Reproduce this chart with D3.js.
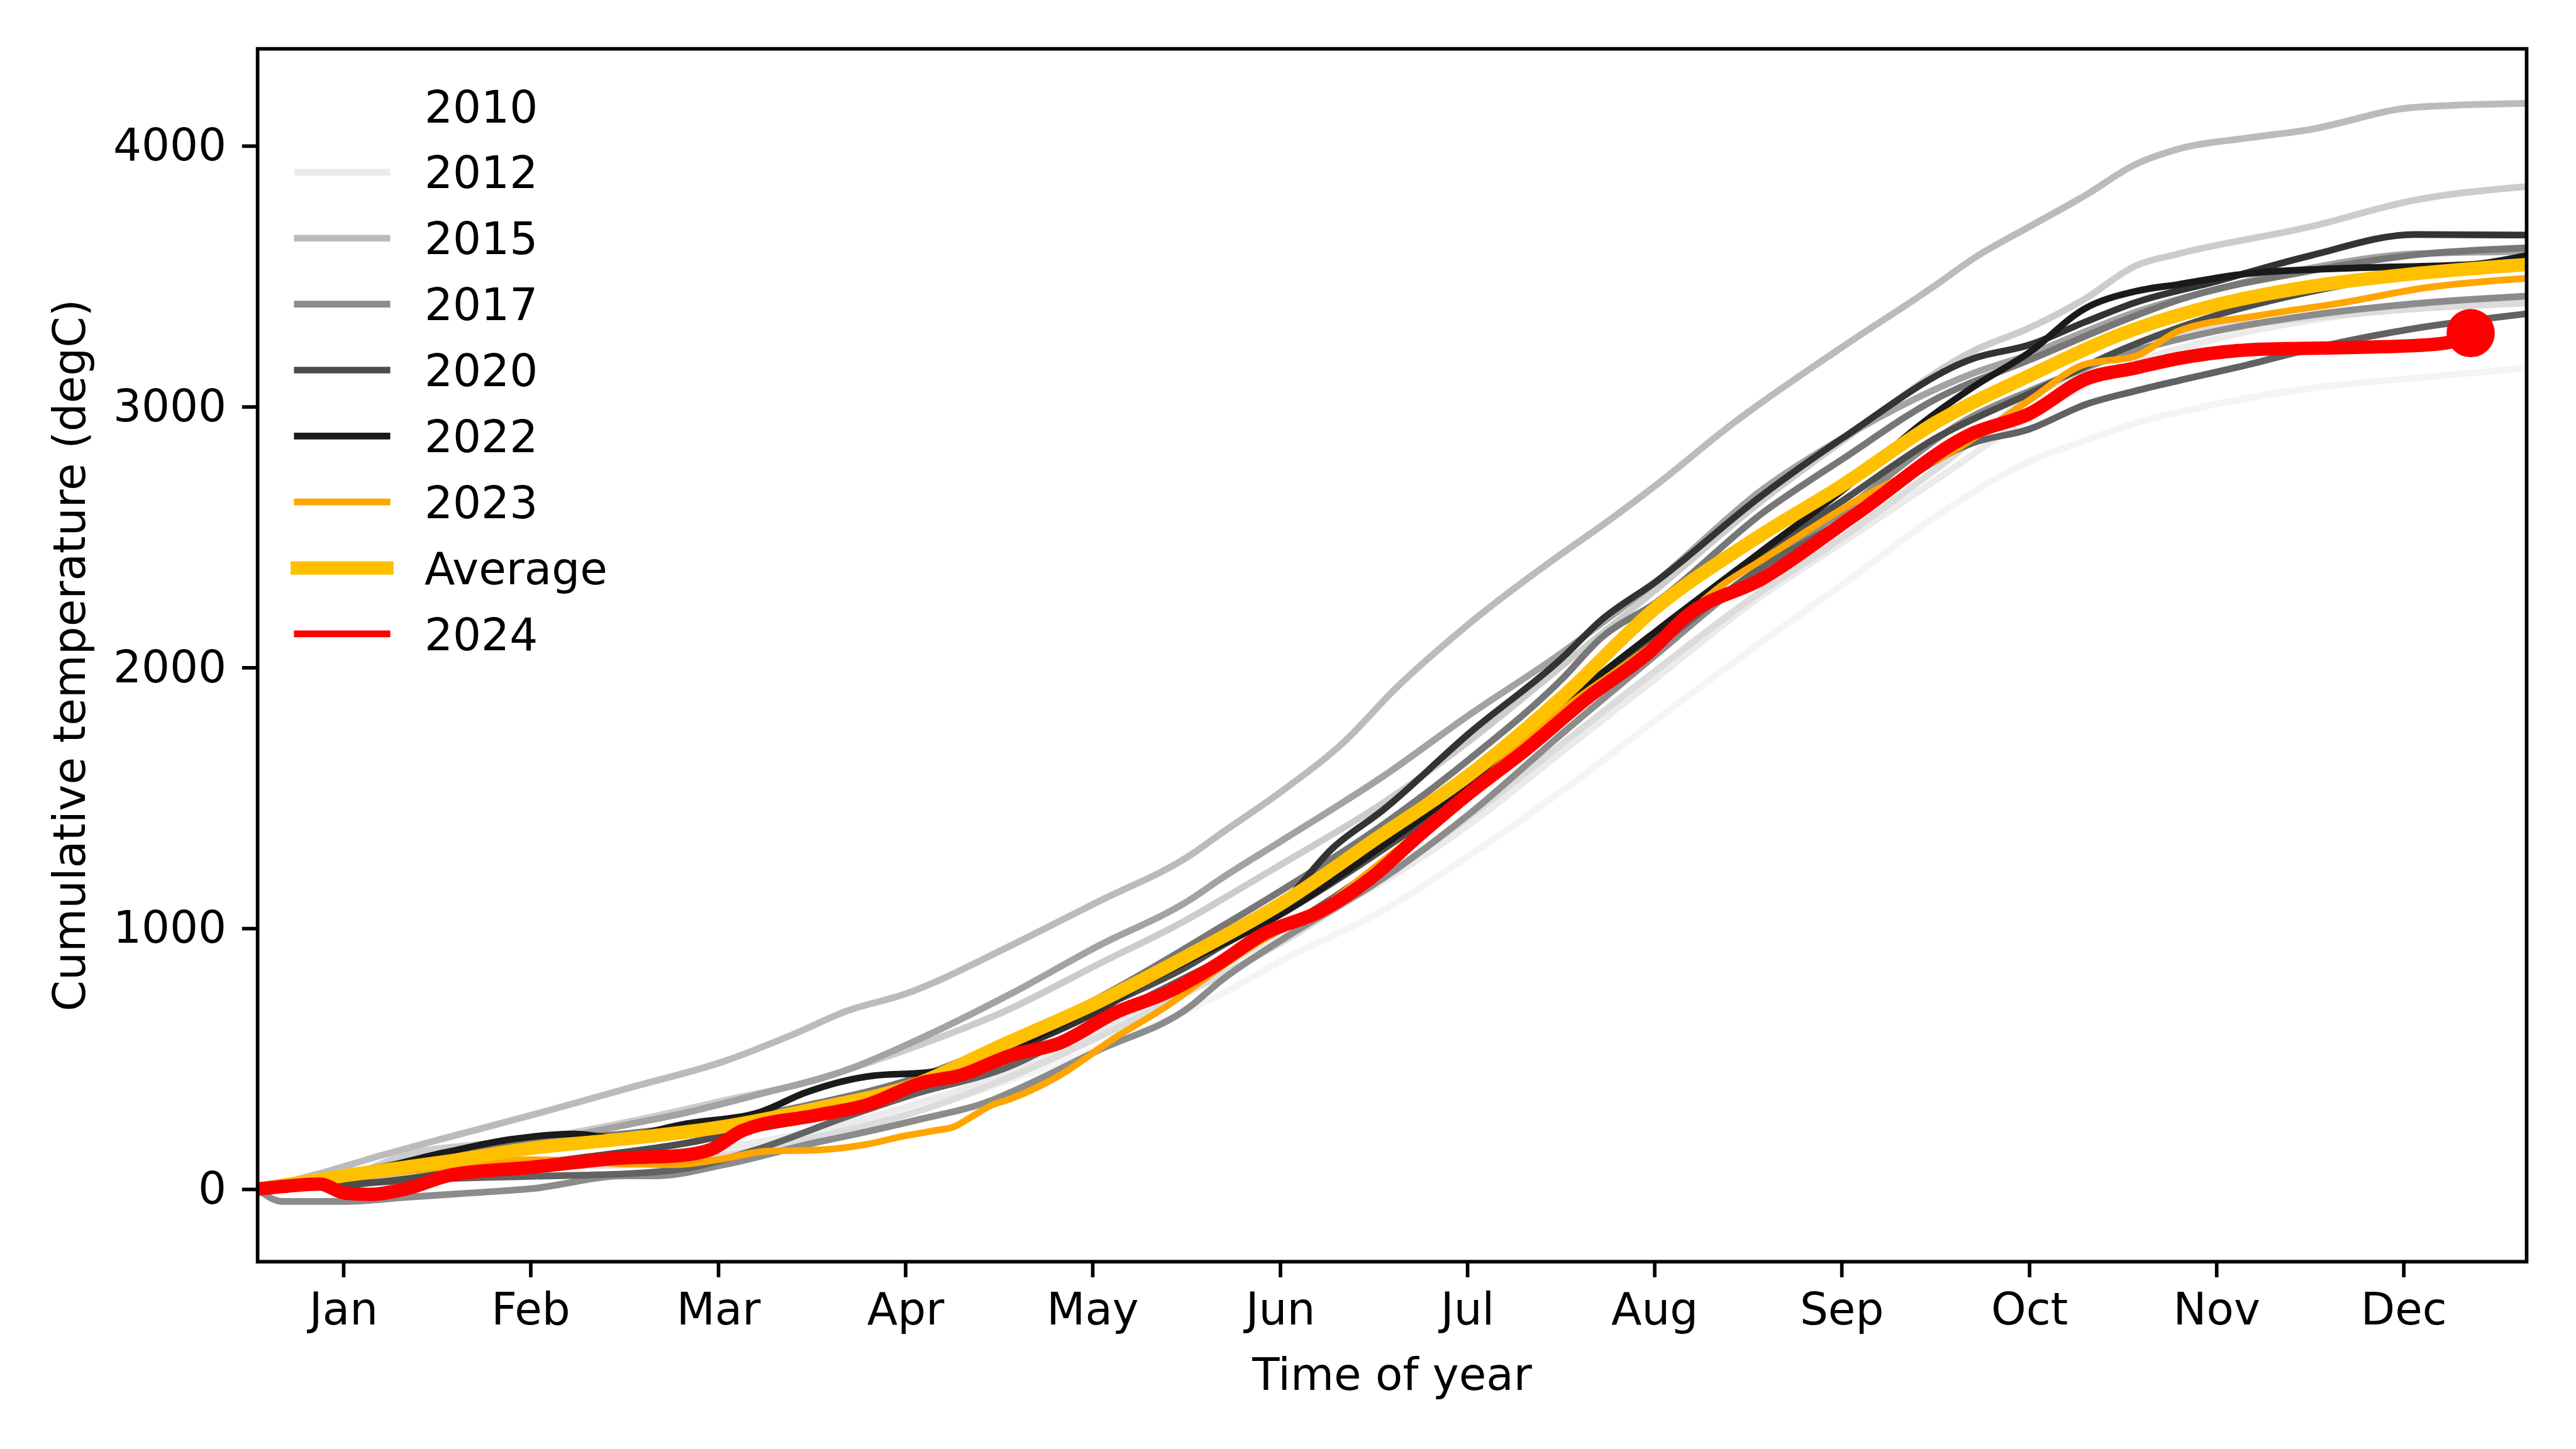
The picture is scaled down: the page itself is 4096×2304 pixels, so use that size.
<!DOCTYPE html>
<html><head><meta charset="utf-8">
<script src="https://cdn.jsdelivr.net/npm/d3@7"></script>
<style>html,body{margin:0;padding:0;background:#fff;overflow:hidden;} svg{display:block;}</style>
</head><body>
<script>
// ---------- DATA ----------
const monthLabels = ["Jan","Feb","Mar","Apr","May","Jun","Jul","Aug","Sep","Oct","Nov","Dec"];
const monthTickDays = [13.8,43.9,74.1,104.2,134.3,164.5,194.6,224.7,254.8,285.0,315.1,345.2];
const yTickValues = [0,1000,2000,3000,4000];

const greyYears = ["2011","2012","2013","2014","2015","2016","2017","2018","2019","2020","2021","2022"];
const greyColors = ["#f4f4f4","#ebebeb","#dcdcdc","#cccccc","#bbbbbb","#a3a3a3","#8c8c8c","#777777","#626262","#4d4d4d","#333333","#1a1a1a"];

const s2011 = [[0,0],[14,20],[30,50],[45,80],[60,110],[75,150],[90,210],[105,290],[121,418],[135,540],[155,747],[165,880],[181,1068],[195,1280],[210,1530],[225,1800],[242,2100],[255,2320],[270,2580],[285,2790],[294,2870],[302,2936],[315,3010],[330,3070],[347,3110],[365,3148]];
const s2012 = [[0,0],[14,25],[30,60],[45,90],[60,120],[75,160],[95,253],[105,320],[120,440],[135,600],[150,790],[165,980],[181,1179],[195,1400],[210,1680],[225,1960],[242,2276],[255,2480],[270,2720],[285,2960],[300,3150],[315,3260],[330,3330],[347,3380],[365,3410]];
const s2013 = [[0,0],[14,30],[30,60],[45,85],[60,95],[75,130],[90,200],[105,290],[120,420],[135,580],[150,760],[165,950],[180,1180],[195,1430],[210,1710],[225,1990],[240,2260],[255,2500],[270,2760],[285,3031],[294,3148],[302,3226],[315,3300],[330,3340],[347,3375],[365,3397]];
const s2014 = [[0,0],[14,45],[25,140],[35,170],[45,195],[60,260],[75,340],[90,420],[95,459],[105,540],[121,691],[135,860],[150,1040],[155,1109],[165,1250],[181,1480],[195,1720],[210,2010],[225,2300],[242,2640],[255,2870],[276,3214],[285,3302],[294,3414],[302,3539],[309,3586],[330,3689],[347,3792],[365,3844]];
const s2015 = [[0,0],[10,60],[20,130],[30,195],[45,290],[60,390],[75,490],[86,592],[95,685],[104,747],[121,932],[135,1100],[150,1280],[155,1364],[165,1530],[175,1720],[183,1918],[195,2170],[210,2440],[216,2540],[225,2700],[237,2930],[255,3230],[270,3467],[276,3568],[285,3690],[294,3810],[302,3928],[309,3988],[320,4030],[330,4062],[347,4148],[365,4163]];
const s2016 = [[0,0],[14,50],[30,120],[45,175],[52,212],[60,250],[69,294],[80,360],[95,459],[105,560],[121,747],[135,930],[150,1110],[155,1191],[165,1340],[181,1582],[195,1820],[210,2060],[216,2166],[225,2330],[242,2681],[255,2880],[276,3128],[285,3200],[294,3288],[302,3362],[315,3450],[330,3530],[347,3586],[365,3595]];
const s2017 = [[0,0],[4,-47],[14,-47],[24,-31],[32,-18],[44,2],[59,51],[64,51],[75,94],[90,180],[95,205],[106,265],[118,340],[121,370],[135,530],[150,700],[155,800],[165,960],[181,1191],[195,1440],[210,1750],[225,2050],[242,2385],[255,2600],[276,2965],[285,3060],[300,3200],[315,3290],[330,3350],[347,3395],[365,3424]];
const s2018 = [[0,0],[14,60],[30,130],[35,152],[45,185],[60,215],[75,260],[90,330],[105,420],[120,560],[135,730],[155,1006],[165,1150],[181,1397],[195,1650],[210,1960],[216,2111],[225,2250],[242,2591],[255,2800],[270,3030],[285,3179],[302,3348],[309,3409],[330,3520],[347,3582],[365,3609]];
const s2019 = [[0,0],[14,20],[30,40],[45,50],[60,60],[69,80],[80,150],[95,280],[105,360],[121,471],[135,640],[150,820],[165,1000],[181,1250],[195,1520],[210,1810],[225,2080],[242,2385],[255,2560],[276,2862],[285,2914],[294,3008],[302,3060],[309,3100],[320,3160],[330,3220],[347,3300],[365,3356]];
const s2020 = [[0,0],[14,15],[24,40],[35,80],[45,100],[52,121],[69,177],[80,230],[95,300],[105,380],[121,530],[135,690],[150,860],[155,932],[165,1060],[181,1302],[195,1540],[210,1830],[225,2110],[242,2434],[255,2640],[270,2880],[285,3050],[300,3220],[315,3350],[330,3440],[347,3510],[365,3550]];
const s2021 = [[0,0],[14,60],[30,110],[45,150],[60,185],[75,225],[90,290],[105,380],[120,520],[135,680],[150,900],[155,960],[165,1100],[173,1309],[181,1453],[195,1750],[210,2040],[216,2179],[225,2330],[242,2660],[255,2880],[276,3185],[285,3237],[294,3325],[302,3399],[315,3480],[330,3578],[347,3660],[365,3658]];
const s2022 = [[0,0],[14,50],[30,140],[41,192],[51,212],[57,199],[69,251],[81,297],[88,369],[99,435],[108,448],[119,521],[135,700],[150,880],[165,1060],[180,1300],[195,1560],[210,1860],[225,2140],[242,2447],[255,2680],[269,2959],[276,3076],[285,3208],[294,3377],[302,3442],[309,3469],[320,3510],[335,3530],[350,3540],[356,3545],[365,3580]];
const greySeries = [s2011,s2012,s2013,s2014,s2015,s2016,s2017,s2018,s2019,s2020,s2021,s2022];

const s2023 = [[0,0],[14,40],[30,85],[44,113],[52,109],[59,97],[67,94],[74,113],[82,146],[90,150],[98,172],[104,204],[109,225],[112,239],[115,280],[118,321],[121,345],[129,436],[138,582],[146,698],[154,835],[162,961],[171,1076],[180,1240],[195,1530],[210,1840],[225,2100],[236,2323],[242,2413],[257,2638],[274,2848],[285,3025],[294,3163],[302,3193],[309,3290],[322,3350],[335,3397],[349,3457],[365,3492]];
const sAverage = [[0,0],[14,52],[30,105],[45,160],[60,195],[75,240],[90,310],[105,395],[120,555],[135,715],[150,900],[165,1100],[180,1345],[195,1590],[210,1890],[225,2230],[240,2480],[255,2700],[270,2940],[285,3119],[300,3280],[315,3390],[330,3460],[345,3505],[365,3545]];
const s2024 = [[0,0],[5,12],[10,20],[14,-15],[18,-20],[24,2],[31,54],[44,84],[59,120],[67,127],[73,153],[78,225],[90,284],[98,323],[107,409],[113,436],[121,512],[129,560],[138,677],[146,751],[154,856],[162,981],[171,1066],[179,1191],[187,1360],[195,1520],[204,1685],[214,1885],[224,2062],[230,2200],[242,2340],[257,2586],[276,2899],[285,2973],[294,3105],[302,3148],[309,3185],[322,3220],[335,3226],[349,3237],[354,3255],[356,3282]];

const legendLabels = ["2010","2012","2015","2017","2020","2022","2023","Average","2024"];
const legendColors = ["#ffffff","#ebebeb","#bbbbbb","#8c8c8c","#4d4d4d","#1a1a1a","#ffa500","#ffc000","#ff0000"];

// ---------- DRAW ----------
const L = 480, R = 4708, T = 91, B = 2351;
const FONT = "DejaVu Sans";
const FS = 83;
const svg = d3.select("body").append("svg")
  .attr("width", 4096).attr("height", 2304)
  .attr("viewBox", "0 0 4800 2700");
svg.append("rect").attr("width", 4800).attr("height", 2700).attr("fill", "#fff");

const x = d3.scaleLinear().domain([0, 365]).range([L, R]);
const y = d3.scaleLinear().domain([-278, 4372]).range([B, T]);

svg.append("clipPath").attr("id", "clip")
  .append("rect").attr("x", L).attr("y", T).attr("width", R - L).attr("height", B - T);

const line = d3.line().x(d => x(d[0])).y(d => y(d[1])).curve(d3.curveMonotoneX);
const g = svg.append("g").attr("clip-path", "url(#clip)");

greySeries.forEach((s, i) => {
  g.append("path").attr("d", line(s)).attr("fill", "none")
    .attr("stroke", greyColors[i]).attr("stroke-width", 12.5)
    .attr("stroke-linejoin", "round").attr("stroke-linecap", "square");
});
g.append("path").attr("d", line(s2023)).attr("fill", "none")
  .attr("stroke", "#ffa500").attr("stroke-width", 12.5).attr("stroke-linejoin", "round");
g.append("path").attr("d", line(sAverage)).attr("fill", "none")
  .attr("stroke", "#ffc000").attr("stroke-width", 25).attr("stroke-linejoin", "round");
g.append("path").attr("d", line(s2024)).attr("fill", "none")
  .attr("stroke", "#ff0000").attr("stroke-width", 25).attr("stroke-linejoin", "round");
const last = s2024[s2024.length - 1];
g.append("circle").attr("cx", x(last[0])).attr("cy", y(last[1])).attr("r", 45).attr("fill", "#ff0000");

// axes
const xAxis = d3.axisBottom(x).tickValues(monthTickDays)
  .tickFormat((d, i) => monthLabels[i]).tickSize(29).tickPadding(29);
const yAxis = d3.axisLeft(y).tickValues(yTickValues)
  .tickFormat(d3.format("d")).tickSize(29).tickPadding(29);

const gx = svg.append("g").attr("transform", `translate(0,${B})`).call(xAxis);
const gy = svg.append("g").attr("transform", `translate(${L},0)`).call(yAxis);
[gx, gy].forEach(ax => {
  ax.select(".domain").remove();
  ax.selectAll(".tick line").attr("stroke", "#000").attr("stroke-width", 6.67);
  ax.selectAll(".tick text").attr("fill", "#000")
    .style("font-family", FONT).style("font-size", FS + "px");
});

// frame
svg.append("rect").attr("x", L).attr("y", T).attr("width", R - L).attr("height", B - T)
  .attr("fill", "none").attr("stroke", "#000").attr("stroke-width", 6.67);

// axis labels
svg.append("text").attr("x", (L + R) / 2).attr("y", 2590)
  .attr("text-anchor", "middle").style("font-family", FONT).style("font-size", FS + "px")
  .text("Time of year");
svg.append("text").attr("transform", `translate(158,${(T + B) / 2}) rotate(-90)`)
  .attr("text-anchor", "middle").style("font-family", FONT).style("font-size", FS + "px")
  .text("Cumulative temperature (degC)");

// legend
const legendWidths = [12.5,12.5,12.5,12.5,12.5,12.5,12.5,25,12.5];
const lg = svg.append("g");
legendLabels.forEach((lab, i) => {
  const cy = 198 + i * 122.9;
  lg.append("line").attr("x1", 554).attr("x2", 721).attr("y1", cy).attr("y2", cy)
    .attr("stroke", legendColors[i]).attr("stroke-width", legendWidths[i])
    .attr("stroke-linecap", "square");
  lg.append("text").attr("x", 791).attr("y", cy + 30)
    .style("font-family", FONT).style("font-size", FS + "px").attr("fill", "#000")
    .text(lab);
});
</script>
</body></html>
